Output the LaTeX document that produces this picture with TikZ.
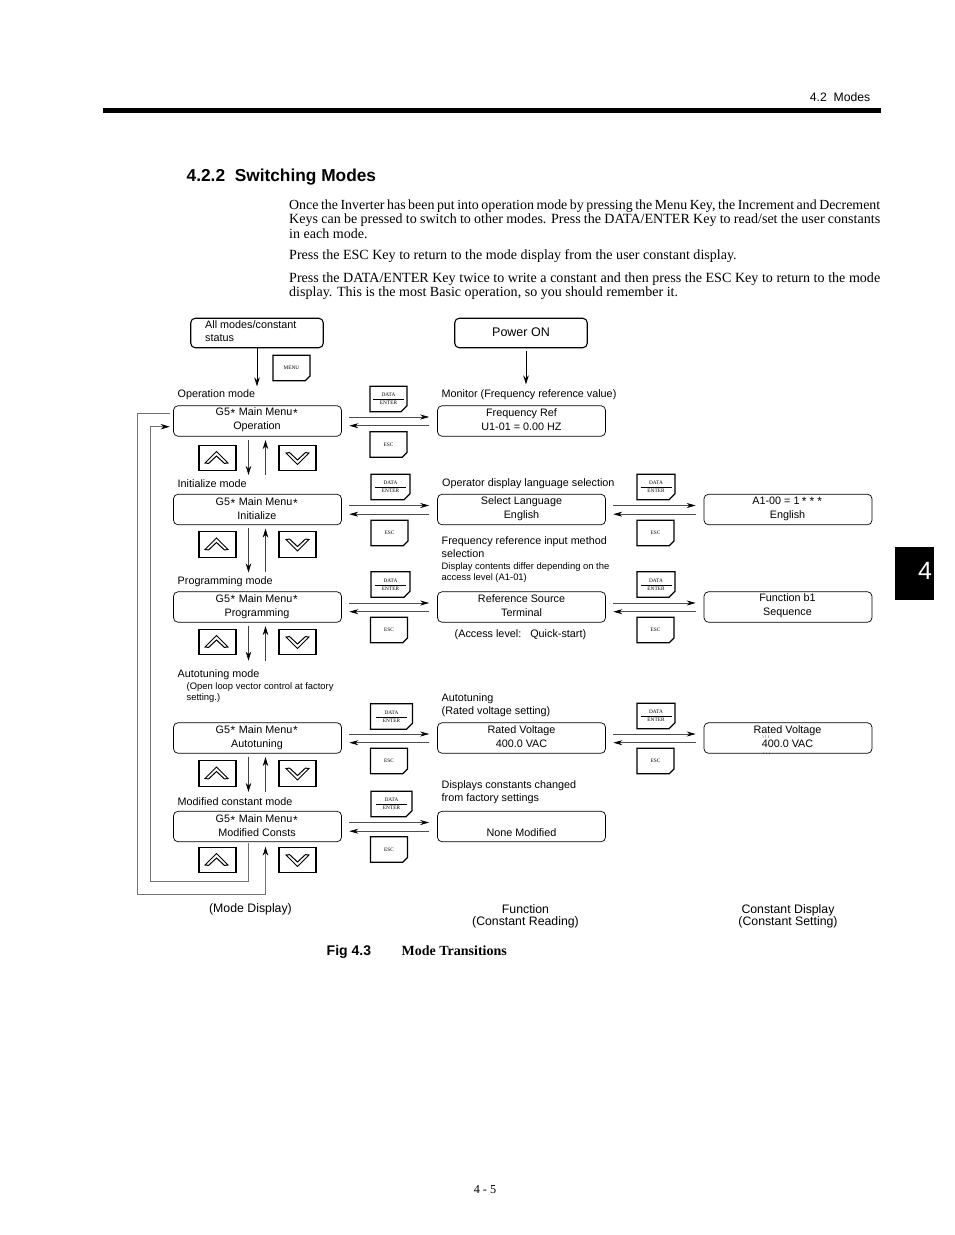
\documentclass[tikz,border=0pt]{standalone}
\usepackage{fontspec}
\setmainfont{Liberation Sans}
\newfontfamily\tmsfont{Liberation Serif}
\usetikzlibrary{arrows.meta,shapes.misc}
\newcommand{\fsz}[1]{\fontsize{#1pt}{#1pt}\selectfont}
\newcommand{\strk}{\kern0.6pt\raisebox{-1.5pt}{\fontsize{12pt}{12pt}\selectfont *}\kern0.6pt}
\tikzset{
  x=1pt,y=-1pt,
  lbl/.style={anchor=west,inner sep=0pt,yshift=-1.2pt,font=\fsz{10.8}},
  sml/.style={anchor=west,inner sep=0pt,yshift=-1.2pt,font=\fsz{9.4}},
  btxt/.style={inner sep=0pt,align=center,yshift=-1pt,font=\fontsize{10.8pt}{14.2pt}\selectfont},
  captxt/.style={inner sep=0pt,align=center,yshift=-1pt,font=\fontsize{12.3pt}{12pt}\selectfont},
  body/.style={anchor=west,inner sep=0pt,yshift=-1pt,font=\tmsfont\fsz{14.05}},
  dispbox/.style={draw=black,line width=0.7pt,rounded corners=4.5pt,minimum width=168pt,minimum height=30.5pt,inner sep=0pt},
  topbox/.style={draw=black,line width=1.1pt,rounded corners=4.5pt,minimum width=132.5pt,minimum height=29.5pt,inner sep=0pt},
  keybox/.style={draw=black,line width=1.1pt,fill=white,chamfered rectangle,chamfered rectangle corners=south east,chamfered rectangle xsep=3pt,chamfered rectangle ysep=3pt,minimum height=25.5pt,inner sep=0pt,font=\tmsfont\fsz{5.3},align=center},
  chev/.style={draw=black,line width=1pt,fill=white,line join=miter},
  flow/.style={draw=black!70,line width=0.6pt,-{Stealth[length=9pt,width=5pt,black]}},
  vflow/.style={draw=black!75,line width=0.7pt,-{Stealth[length=9pt,width=5.5pt,black]}},
  mainflow/.style={draw=black,line width=0.9pt,-{Stealth[length=9pt,width=5.5pt,black]}},
  loopline/.style={draw=black!55,line width=0.8pt},
  loopflow/.style={draw=black!55,line width=0.8pt,-{Stealth[length=9pt,width=5.5pt,black]}},
}
% data/enter and esc keys
\newcommand{\dkey}[4]{\node[keybox,minimum width=#4pt] (#1) at (#2,#3) {DATA\\[-2.2pt]\rule{31pt}{0.8pt}\\[-0.5pt]ENTER};}
\newcommand{\ekey}[3]{\node[keybox,minimum width=37pt] (#1) at (#2,#3) {ESC};}
% arrow keys
\newcommand{\upkey}[3]{\node[keybox,minimum width=37pt] (#1) at (#2,#3) {};
  \draw[chev] ([shift={(-1,-6.5)}]#1.center) -- ++(11.5,11.5) -- ++(-3.6,0.4) -- ++(-7.9,-7.4) -- ++(-7.9,7.4) -- ++(-3.6,-0.4) -- cycle;}
\newcommand{\dnkey}[3]{\node[keybox,minimum width=37pt] (#1) at (#2,#3) {};
  \draw[chev] ([shift={(0,6.5)}]#1.center) -- ++(-11.5,-11.5) -- ++(3.6,-0.4) -- ++(7.9,7.4) -- ++(7.9,-7.4) -- ++(3.6,0.4) -- cycle;}
% row of arrows between displays
\newcommand{\harrows}[2]{
  \draw[flow] ([shift={(7.5,-4)}]#1.east) -- ([shift={(-8,-4)}]#2.west);
  \draw[flow] ([shift={(-8,4.7)}]#2.west) -- ([shift={(7.5,4.7)}]#1.east);}
\newcommand{\varrows}[2]{
  \draw[vflow] ([shift={(-9,3)}]#1.south) -- ([shift={(-9,-19)}]#2.north);
  \draw[vflow] ([shift={(8,-19)}]#2.north) -- ([shift={(8,3.5)}]#1.south);}
\begin{document}
\begin{tikzpicture}
\useasboundingbox (0,0) rectangle (954,1235);
\fill[white] (0,0) rectangle (954,1235);
% page furniture
\node[anchor=east,inner sep=0pt,yshift=-1pt,font=\fsz{12.2}] (runhead) at (870.5,96.5) {4.2\ \ Modes};
\fill[black] (103,107.5) rectangle (881,112.5);
\fill[black] (894.5,547) rectangle (933.5,599.5);
\node[inner sep=0pt,text=white,font=\fsz{25}] (tab) at (925,571) {4};
\node[anchor=west,inner sep=0pt,yshift=-1pt,font=\bfseries\fsz{17.3}] (head) at (186.5,176) {4.2.2\ \ Switching Modes};
\node[body,font=\tmsfont\fsz{13.9}] (b1) at (289,205) {\makebox[591pt][s]{Once the Inverter has been put into operation mode by pressing the Menu Key, the Increment and Decrement}};
\node[body] (b2) at (289,219) {\makebox[591pt][s]{Keys can be pressed to switch to other modes. Press the DATA/ENTER Key to read/set the user constants}};
\node[body] (b3) at (289,233) {in each mode.};
\node[body] (b4) at (289,255) {Press the ESC Key to return to the mode display from the user constant display.};
\node[body] (b5) at (289,278) {\makebox[591pt][s]{Press the DATA/ENTER Key twice to write a constant and then press the ESC Key to return to the mode}};
\node[body] (b6) at (289,292) {display. This is the most Basic operation, so you should remember it.};
% top boxes
\node[topbox] (all) at (257,333) {};
\node[lbl] (allt1) at (205,323.2) {All modes/constant};
\node[lbl] (allt2) at (205,336.7) {status};
\node[topbox] (pow) at (521,333) {};
\node[inner sep=0pt,font=\fsz{12.5}] (powt) at (521,332.5) {Power ON};
\node[keybox,minimum width=37pt] (menu) at (291.5,368) {MENU};
% mode column
\node[dispbox] (m1) at (257.5,421) {};
\node[dispbox] (m2) at (257.5,509.5) {};
\node[dispbox] (m3) at (257.5,607) {};
\node[dispbox] (m4) at (257.5,738) {};
\node[dispbox] (m5) at (257.5,826.5) {};
\node[btxt] (m1t) at (257,419) {G5\strk\ Main Menu\strk\\Operation};
\node[btxt] (m2t) at (257,508) {G5\strk\ Main Menu\strk\\Initialize};
\node[btxt] (m3t) at (257,605.5) {G5\strk\ Main Menu\strk\\Programming};
\node[btxt] (m4t) at (257,736.5) {G5\strk\ Main Menu\strk\\Autotuning};
\node[btxt] (m5t) at (257,825) {G5\strk\ Main Menu\strk\\Modified Consts};
% function column
\node[dispbox] (f1) at (521.5,421) {};
\node[dispbox] (f2) at (521.5,509.5) {};
\node[dispbox] (f3) at (521.5,607) {};
\node[dispbox] (f4) at (521.5,738) {};
\node[dispbox] (f5) at (521.5,826.5) {};
\node[btxt] (f1t) at (521.5,419) {Frequency Ref\\U1-01 = 0.00 HZ};
\node[btxt] (f2t) at (521.5,507.5) {Select Language\\English};
\node[btxt] (f3t) at (521.5,605) {Reference Source\\Terminal};
\node[btxt] (f4t) at (521.5,736) {Rated Voltage\\400.0 VAC};
\node[btxt] (f5t) at (521.5,832) {None Modified};
% constant column
\node[dispbox] (c2) at (788,509.5) {};
\node[dispbox] (c3) at (788,607) {};
\node[dispbox] (c4) at (788,738) {};
\node[btxt] (c2t) at (787.5,507.5) {A1-00 = 1\,\strk\,\strk\,\strk\\English};
\node[btxt] (c3t) at (787.5,605) {Function b1\\Sequence};
\node[btxt] (c4t) at (787.5,736) {Rated Voltage\\400.0 VAC};
% cursor marks
\draw[black!60,line width=0.3pt] (762.5,735) -- (763.5,738) (765.5,735) -- (765.5,738) (769,735) -- (768,738);
\draw[black!60,line width=0.3pt] (763.5,752) -- (763,754.5) (766.5,752) -- (766.5,754.5) (769.5,752) -- (769.5,754.5);
% mode labels
\node[lbl] (l1) at (177.5,394) {Operation mode};
\node[lbl] (l2) at (177.5,482.5) {Initialize mode};
\node[lbl] (l3) at (177.5,580) {Programming mode};
\node[lbl] (l4) at (177.5,673) {Autotuning mode};
\node[sml] (l4a) at (186.5,686) {(Open loop vector control at factory};
\node[sml] (l4b) at (186.5,697) {setting.)};
\node[lbl] (l5) at (177.5,800) {Modified constant mode};
% function labels
\node[lbl] (g1) at (441.5,394) {Monitor (Frequency reference value)};
\node[lbl] (g2) at (442,482.5) {Operator display language selection};
\node[lbl] (g3) at (441.5,540) {Frequency reference input method};
\node[lbl] (g3b) at (441.5,552.5) {selection};
\node[sml] (g3c) at (441.5,565.5) {Display contents differ depending on the};
\node[sml] (g3d) at (441.5,577) {access level (A1-01)};
\node[lbl] (g3e) at (454.5,633.5) {(Access level:\ \ \ Quick-start)};
\node[lbl] (g4) at (441.5,697) {Autotuning};
\node[lbl] (g4b) at (441.5,710) {(Rated voltage setting)};
\node[lbl] (g5) at (441.5,784) {Displays constants changed};
\node[lbl] (g5b) at (441.5,797) {from factory settings};
% captions
\node[captxt] (cap1) at (250.5,908.5) {(Mode Display)};
\node[captxt] (cap2) at (525.5,915) {Function\\(Constant Reading)};
\node[captxt] (cap3) at (788,915) {Constant Display\\(Constant Setting)};
\node[anchor=west,inner sep=0pt,font=\bfseries\fsz{14}] (figa) at (326.5,952) {Fig 4.3};
\node[anchor=west,inner sep=0pt,font=\tmsfont\bfseries\fsz{14}] (figb) at (401.5,950.5) {Mode Transitions};
\node[inner sep=0pt,font=\tmsfont\fsz{12.2}] (pg) at (485,1190) {4 - 5};
% keys, left
\dkey{d1}{388.5}{399}{37}
\ekey{e1}{388.5}{444.5}
\dkey{d2}{390.5}{487}{39}
\ekey{e2}{389.5}{533}
\dkey{d3}{390.5}{584.5}{39}
\ekey{e3}{389}{630}
\dkey{d4}{391.5}{716.5}{42}
\ekey{e4}{389}{761}
\dkey{d5}{391.5}{804}{41}
\ekey{e5}{389}{849.5}
% keys, right
\dkey{r2}{656}{487}{38}
\ekey{s2}{655.5}{533}
\dkey{r3}{656}{584.5}{38}
\ekey{s3}{655.5}{630}
\dkey{r4}{656}{716}{38}
\ekey{s4}{655.5}{761}
% arrow keys
\upkey{u1}{217.5}{458}
\dnkey{v1}{297.5}{458}
\upkey{u2}{217.5}{544.5}
\dnkey{v2}{297.5}{544.5}
\upkey{u3}{217.5}{642}
\dnkey{v3}{297.5}{642}
\upkey{u4}{217.5}{773.5}
\dnkey{v4}{297.5}{773.5}
\upkey{u5}{217.5}{860}
\dnkey{v5}{297.5}{860}
% connectors
\draw[mainflow] (all.south) -- ([shift={(-0.5,-19)}]m1.north);
\draw[mainflow] ([shift={(5,2.5)}]pow.south) -- ([shift={(4.5,-21)}]f1.north);
\harrows{m1}{f1}
\harrows{m2}{f2}
\harrows{m3}{f3}
\harrows{m4}{f4}
\harrows{m5}{f5}
\harrows{f2}{c2}
\harrows{f3}{c3}
\harrows{f4}{c4}
\varrows{m1}{m2}
\varrows{m2}{m3}
\varrows{m4}{m5}
\draw[vflow] ([shift={(-9,3)}]m3.south) -- ([shift={(-9,38)}]m3.south);
\draw[vflow] ([shift={(8,38)}]m3.south) -- ([shift={(8,3.5)}]m3.south);
% return loops
\coordinate (la) at (150.5,881);
\coordinate (lb) at (150.5,426.7);
\coordinate (lc) at (137.5,413);
\coordinate (ld) at (137.5,894);
\coordinate (le) at (265.5,894);
\draw[loopflow] ([shift={(-9,0.5)}]m5.south) -- ([shift={(-9,0)}]m5.south |- la) -- (la) -- (lb) -- ([shift={(-3.5,5.7)}]m1.west);
\draw[loopline] ([shift={(-3.5,-8)}]m1.west) -- (lc) -- (ld) -- (le);
\draw[mainflow,draw=black!55] (le) -- ([shift={(8,4.5)}]m5.south);
\end{tikzpicture}
\end{document}
